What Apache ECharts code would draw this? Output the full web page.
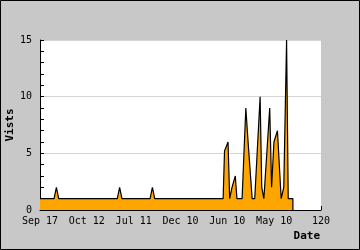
<!DOCTYPE html>
<html>
<head>
<meta charset="utf-8">
<script src="https://cdn.jsdelivr.net/npm/echarts@6/dist/echarts.min.js"></script>
<style>
html,body{margin:0;padding:0;background:#c8c8c8;}
#c{width:360px;height:250px;}
</style>
</head>
<body>
<div id="c"></div>
<script>
// Data (x = point index along the date axis, y = visits)
const xs = [0,6,7,8,33,34,35,47,48,49,78.2,78.8,80.3,81.0,81.3,82,83.4,84.1,86.3,87.9,88.9,90.6,91.7,94.0,94.7,95.6,96.4,98.1,98.9,99.9,101.4,103.0,104.1,105.3,106,108,108];
const ys = [1,1,2,1,1,2,1,1,2,1,1,5.2,6,1,1,2,3,1,1,9,5.9,1,1,10,2,1,1,9,2,6,7,1,2,15,1,1,0];
const xTickValues = [0,20,40,60,80,100,120];
const xTickLabels = ['Sep 17','Oct 12','Jul 11','Dec 10','Jun 10','May 10','120'];
const yTicks = [0,5,10,15];

const font = 'DejaVu Sans Mono';
const chart = echarts.init(document.getElementById('c'));
chart.setOption({
  animation: false,
  backgroundColor: '#c8c8c8',
  graphic: [{
    type: 'rect', shape: {x: 0.5, y: 0.5, width: 359, height: 249},
    style: {fill: 'none', stroke: '#000', lineWidth: 1}, z: 100
  }],
  grid: {left: 40, top: 40, right: 39, bottom: 40, show: true, backgroundColor: '#fff', borderWidth: 0,
         containLabel: false, outerBoundsMode: 'none'},
  xAxis: {
    type: 'value', min: 0, max: 120, interval: 20,
    name: 'Date', nameLocation: 'end', nameGap: 0, nameMoveOverlap: false,
    nameTextStyle: {fontFamily: font, fontSize: 11, fontWeight: 'bold', color: '#000', align: 'right', verticalAlign: 'top', padding: [21, 1, 0, 0]},
    axisLine: {show: true, onZero: false, lineStyle: {color: '#000', width: 1}},
    axisTick: {show: true, inside: true, length: 4, lineStyle: {color: '#000'}},
    splitLine: {show: false},
    axisLabel: {
      fontFamily: font, fontSize: 10, color: '#000', margin: 6,
      formatter: v => { const i = xTickValues.indexOf(v); return i >= 0 ? xTickLabels[i] : ''; }
    }
  },
  yAxis: {
    type: 'value', min: yTicks[0], max: yTicks[yTicks.length - 1], interval: 5,
    name: 'Vists', nameLocation: 'middle', nameGap: 24, nameRotate: 90, nameMoveOverlap: false,
    nameTextStyle: {fontFamily: font, fontSize: 11, fontWeight: 'bold', color: '#000'},
    axisLine: {show: true, lineStyle: {color: '#000', width: 1}},
    axisTick: {show: true, inside: true, length: 4, lineStyle: {color: '#000'}},
    minorTick: {show: true, splitNumber: 5, length: 4, lineStyle: {color: '#000'}},
    splitLine: {show: true, lineStyle: {color: '#d4d4d4', width: 1}},
    axisLabel: {fontFamily: font, fontSize: 10, color: '#000', margin: 8}
  },
  series: [{
    type: 'line',
    data: xs.map((x, i) => [x, ys[i]]),
    symbol: 'none',
    lineStyle: {color: '#000', width: 1.2},
    areaStyle: {color: '#ffa500', opacity: 1},
    z: 2
  }]
});
</script>
</body>
</html>
